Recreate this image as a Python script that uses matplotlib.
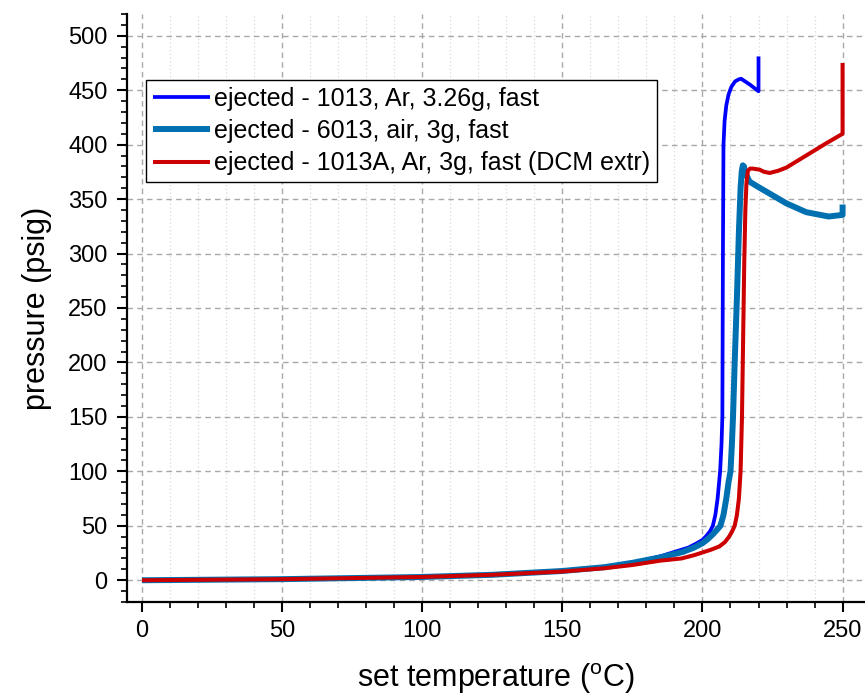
import numpy as np
import matplotlib.pyplot as plt
from matplotlib.ticker import MultipleLocator

# 1013, Ar, 3.26g, fast
x_1013 = [0, 25, 50, 75, 100, 125, 150, 165, 175, 185, 190, 195, 198, 200, 201.5, 202.7,
          203.7, 204.6, 205.4, 206.3, 206.8, 207.1, 207.3, 207.5, 207.9, 208.5, 209.3, 210.3,
          211.6, 213, 213.8, 217, 220, 220]
p_1013 = [0, 0.5, 1, 2, 3, 5, 8.5, 12, 16, 22, 26, 30, 34, 37, 41, 45,
          50, 60, 75, 100, 125, 150, 300, 400, 422, 436, 446, 453, 458,
          460, 460.5, 455, 449, 481]

# 6013, air, 3g, fast
x_6013 = [0, 25, 50, 75, 100, 125, 150, 165, 175, 185, 193, 197, 200, 202, 204, 205.4,
          206.4, 207.5, 208.5, 209.3, 210, 210.5, 210.9, 211.5, 212.3, 213, 213.6, 214,
          214.4, 214.8, 215.3, 216.8, 220, 224, 230, 237, 245, 250, 250]
p_6013 = [0, 0.5, 1, 2, 3, 5, 8.5, 12, 16, 21, 26, 30, 34, 38, 43, 47,
          50, 60, 75, 90, 100, 125, 150, 200, 260, 320, 360, 375,
          381, 380, 374, 366, 361, 355, 346, 338, 334, 335.5, 345]

# 1013A, Ar, 3g, fast (DCM extr)
x_1013a = [0, 25, 50, 75, 100, 125, 150, 165, 175, 185, 192.5, 197, 200, 203, 206, 208,
           209.5, 210.6, 211.5, 212.3, 213, 213.6, 214.1, 214.5, 214.9, 215.3, 215.7, 216.2,
           217, 218, 220.4, 222, 224, 227, 230, 237, 244, 250, 250]
p_1013a = [0, 0.5, 1, 2, 3, 5, 8, 11, 14, 18, 20, 23, 25.5, 28, 31, 35,
           40, 45, 50, 60, 75, 100, 150, 220, 290, 340, 365, 376,
           378, 378, 377, 375, 374, 376, 379, 390, 401, 410, 475]

labels = ['ejected - 1013, Ar, 3.26g, fast',
          'ejected - 6013, air, 3g, fast',
          'ejected - 1013A, Ar, 3g, fast (DCM extr)']

plt.rcParams['font.family'] = ['Liberation Sans', 'DejaVu Sans']
plt.rcParams['mathtext.fontset'] = 'custom'
plt.rcParams['mathtext.rm'] = 'Liberation Sans'

fig = plt.figure(figsize=(8.65, 6.98), dpi=100)
ax = fig.add_axes([0.147, 0.1375, 0.853, 0.8425])

ax.plot(x_1013, p_1013, color='#0000ff', lw=2.7, label=labels[0],
        solid_joinstyle='round', solid_capstyle='butt')
ax.plot(x_6013, p_6013, color='#0070b0', lw=4.3, label=labels[1],
        solid_joinstyle='round', solid_capstyle='butt')
ax.plot(x_1013a, p_1013a, color='#cc0000', lw=2.9, label=labels[2],
        solid_joinstyle='round', solid_capstyle='butt')

ax.set_xlim(-5.3, 258)
ax.set_ylim(-20, 520)
ax.xaxis.set_major_locator(MultipleLocator(50))
ax.xaxis.set_minor_locator(MultipleLocator(10))
ax.yaxis.set_major_locator(MultipleLocator(50))
ax.yaxis.set_minor_locator(MultipleLocator(10))

ax.grid(which='major', axis='both', color='#a8a8a8', ls=(0, (4, 3)), lw=1.0)
ax.grid(which='minor', axis='x', color='#d8d8d8', ls=(0, (1, 2)), lw=0.9)
ax.set_axisbelow(True)

for s in ['top', 'right']:
    ax.spines[s].set_visible(False)
for s in ['left', 'bottom']:
    ax.spines[s].set_linewidth(1.6)

ax.tick_params(which='major', length=7, width=1.5, labelsize=17, direction='out')
ax.tick_params(axis='y', which='major', pad=7)
ax.tick_params(axis='x', which='major', pad=6)
ax.tick_params(which='minor', length=4, width=1.2, direction='out')

ax.set_xlabel(r'set temperature ($\mathregular{^{o}}$C)', fontsize=22, labelpad=14)
ax.set_ylabel('pressure (psig)', fontsize=22, labelpad=12)

leg = ax.legend(loc='upper left', bbox_to_anchor=(0.025, 0.888), fontsize=18,
                frameon=True, fancybox=False, edgecolor='black', framealpha=1,
                handlelength=2.3, handletextpad=0.16, labelspacing=0.33,
                borderpad=0.28, borderaxespad=0)
leg.get_frame().set_linewidth(1.0)

fig.savefig('out.png', dpi=100)
